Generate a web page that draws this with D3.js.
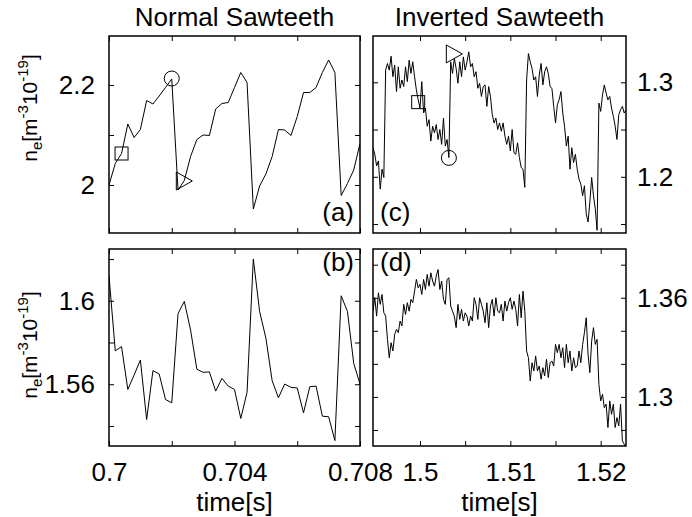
<!DOCTYPE html>
<html>
<head>
<meta charset="utf-8">
<script src="https://cdn.jsdelivr.net/npm/d3@7"></script>
<style>
  body { margin: 0; background: #fff; }
  svg text { font-family: "Liberation Sans", Arial, Helvetica, sans-serif; fill: #000; }
</style>
</head>
<body>
<script>
// ---- data ----
// normal sawteeth, sampled every 0.2 ms from 0.700 s
const normalT0 = 0.7, normalDt = 0.0002;
const normalTop = [
  2.0, 2.043, 2.063, 2.122, 2.095, 2.111, 2.169, 2.162, 2.178, 2.195,
  2.212, 1.99, 2.009, 2.057, 2.091, 2.1, 2.099, 2.152, 2.163, 2.165,
  2.195, 2.225, 2.205, 1.952, 1.998, 2.022, 2.057, 2.111, 2.11, 2.099,
  2.137, 2.185, 2.185, 2.195, 2.225, 2.25, 2.225, 1.979, 2.003, 2.03,
  2.083];
const normalBottom = [
  1.612, 1.576, 1.578, 1.5575, 1.5644, 1.5716, 1.5431, 1.5665, 1.5649, 1.5527,
  1.5511, 1.5938, 1.5997, 1.586, 1.5672, 1.5657, 1.5659, 1.5567, 1.5628, 1.5591,
  1.5575, 1.5436, 1.5561, 1.62, 1.5949, 1.5821, 1.5617, 1.5535, 1.5601, 1.5585,
  1.5582, 1.5463, 1.5588, 1.5591, 1.5447, 1.5444, 1.533, 1.6024, 1.5949, 1.57,
  1.5601];

// inverted sawteeth, sampled every 0.2 ms from 1.4948 s
const invT0 = 1.4948, invDt = 0.0002;
const invTop = [
  1.2308, 1.2238, 1.2115, 1.2168, 1.187, 1.208, 1.1993, 1.3129, 1.3199, 1.3129,
  1.3276, 1.3059, 1.3182, 1.2902, 1.3164, 1.2937, 1.3024, 1.2955, 1.3164, 1.3007,
  1.3234, 1.3094, 1.3217, 1.3059, 1.292, 1.2815, 1.2727, 1.3007, 1.2675, 1.2727,
  1.2535, 1.2605, 1.2378, 1.2535, 1.2465, 1.2552, 1.2395, 1.25, 1.2343, 1.2622,
  1.2325, 1.2395, 1.2203, 1.3217, 1.3094, 1.3252, 1.3147, 1.299, 1.3217, 1.3059,
  1.3269, 1.3129, 1.3217, 1.3322, 1.3164, 1.3199, 1.3059, 1.3112, 1.2937, 1.299,
  1.285, 1.2955, 1.2972, 1.2745, 1.2955, 1.285, 1.2657, 1.257, 1.2622, 1.25,
  1.257, 1.2482, 1.257, 1.243, 1.2343, 1.243, 1.2273, 1.25, 1.2255, 1.2238,
  1.236, 1.2203, 1.2098, 1.208, 1.1888, 1.3024, 1.3304, 1.3217, 1.3147, 1.3024,
  1.3059, 1.285, 1.3077, 1.3199, 1.2972, 1.3112, 1.3164, 1.3094, 1.2955, 1.2937,
  1.2745, 1.257, 1.2762, 1.2815, 1.2902, 1.2675, 1.2535, 1.2325, 1.243, 1.208,
  1.2308, 1.215, 1.2238, 1.208, 1.1975, 1.1923, 1.18, 1.1905, 1.1608, 1.1521,
  1.173, 1.1993, 1.18, 1.1661, 1.1433, 1.278, 1.2692, 1.2867, 1.2972, 1.2885,
  1.2815, 1.285, 1.2727, 1.264, 1.2535, 1.2395, 1.2657, 1.271, 1.2745, 1.2675,
  1.271];
const invBottom = [
  1.3519, 1.36, 1.3489, 1.363, 1.356, 1.362, 1.3509, 1.3489, 1.3348, 1.3237,
  1.3328, 1.3278, 1.3378, 1.3409, 1.3389, 1.3459, 1.3429, 1.356, 1.3499, 1.357,
  1.3519, 1.359, 1.357, 1.364, 1.3711, 1.366, 1.3681, 1.362, 1.3711, 1.365,
  1.3741, 1.367, 1.3751, 1.3701, 1.367, 1.3731, 1.3771, 1.365, 1.3701, 1.359,
  1.356, 1.3711, 1.3721, 1.355, 1.3519, 1.3489, 1.3419, 1.356, 1.3469, 1.353,
  1.3459, 1.3509, 1.3489, 1.3429, 1.3489, 1.3459, 1.36, 1.356, 1.3469, 1.36,
  1.356, 1.3519, 1.3449, 1.357, 1.3419, 1.355, 1.359, 1.3489, 1.36, 1.3519,
  1.3509, 1.356, 1.3459, 1.358, 1.3519, 1.357, 1.36, 1.353, 1.358, 1.353,
  1.3429, 1.362, 1.3479, 1.364, 1.3519, 1.3278, 1.3237, 1.3096, 1.3207, 1.3157,
  1.3248, 1.3157, 1.3187, 1.3107, 1.3177, 1.3127, 1.3227, 1.3117, 1.3207, 1.3217,
  1.3187, 1.3318, 1.3268, 1.3318, 1.3237, 1.3298, 1.3177, 1.3318, 1.3207, 1.3278,
  1.3157, 1.3237, 1.3177, 1.3187, 1.3278, 1.3207, 1.3318, 1.3389, 1.3479, 1.3258,
  1.3147, 1.3338, 1.3419, 1.3318, 1.3348, 1.3076, 1.2976, 1.3016, 1.2935, 1.2956,
  1.2815, 1.2976, 1.2895, 1.2956, 1.2815, 1.2875, 1.2825, 1.2956, 1.2734, 1.2714,
  1.2694];

// markers (square / circle / right triangle)
const markerShapes = ["square", "circle", "triangle"];
const markersNormalT = [0.7004, 0.702, 0.7024];
const markersNormalV = [2.063, 2.213, 2.008];
const markersInvT = [1.4998, 1.5032, 1.5038];
const markersInvV = [1.279, 1.220, 1.330];

// ticks and labels
const normalXTicks = [0.7, 0.702, 0.704, 0.706, 0.708];
const normalXLabels = [0.7, 0.704, 0.708];
const invXTicks = [1.5, 1.505, 1.51, 1.515, 1.52];
const invXLabels = [1.5, 1.51, 1.52];
const yTicksA = [2, 2.1, 2.2], yLabelsA = [2, 2.2];
const yTicksB = [1.54, 1.56, 1.58, 1.6, 1.62], yLabelsB = [1.56, 1.6];
const yTicksC = [1.15, 1.2, 1.25, 1.3], yLabelsC = [1.2, 1.3];
const yTicksD = [1.28, 1.3, 1.32, 1.34, 1.36, 1.38], yLabelsD = [1.3, 1.36];

// ---- layout ----
const W = 692, H = 517;
const colL = [109, 360], colR = [373, 626];
const rowT = [36, 233], rowB = [249, 446];
const FS = 26;

const svg = d3.select("body").append("svg")
  .attr("width", W).attr("height", H);

const only = labels => d => labels.includes(d) ? String(d) : "";
const none = () => "";

function styleAxis(g) {
  g.select(".domain").remove();
  g.attr("font-size", FS).attr("font-family", null);
  g.selectAll(".tick line").attr("stroke", "#000").attr("stroke-width", 1);
}

let clipId = 0;
function panel(o) {
  const [left, right] = o.cols, [top, bottom] = o.rows;
  const x = d3.scaleLinear().domain(o.xDomain).range([left, right]);
  const y = d3.scaleLinear().domain(o.yDomain).range([bottom, top]);
  const g = svg.append("g");

  const id = "clip" + (clipId++);
  svg.append("clipPath").attr("id", id)
    .append("rect").attr("x", left).attr("y", top)
    .attr("width", right - left).attr("height", bottom - top);

  const line = d3.line()
    .x((d, i) => x(o.t0 + i * o.dt))
    .y(d => y(d));
  g.append("path")
    .datum(o.values)
    .attr("clip-path", `url(#${id})`)
    .attr("fill", "none")
    .attr("stroke", "#000")
    .attr("stroke-width", 1)
    .attr("stroke-linejoin", "round")
    .attr("d", line);

  // axes with inward ticks on all four sides
  g.append("g").attr("transform", `translate(0,${bottom})`)
    .call(d3.axisBottom(x).tickValues(o.xTicks).tickSizeInner(-5).tickSizeOuter(0)
      .tickPadding(17).tickFormat(o.xLabels ? only(o.xLabels) : none))
    .call(styleAxis);
  g.append("g").attr("transform", `translate(0,${top})`)
    .call(d3.axisTop(x).tickValues(o.xTicks).tickSizeInner(-5).tickSizeOuter(0).tickFormat(none))
    .call(styleAxis);
  g.append("g").attr("transform", `translate(${left},0)`)
    .call(d3.axisLeft(y).tickValues(o.yTicks).tickSizeInner(-5).tickSizeOuter(0)
      .tickPadding(14).tickFormat(o.side === "left" ? only(o.yLabels) : none))
    .call(styleAxis);
  g.append("g").attr("transform", `translate(${right},0)`)
    .call(d3.axisRight(y).tickValues(o.yTicks).tickSizeInner(-5).tickSizeOuter(0)
      .tickPadding(11).tickFormat(o.side === "right" ? only(o.yLabels) : none))
    .call(styleAxis);

  g.append("rect")
    .attr("x", left).attr("y", top)
    .attr("width", right - left).attr("height", bottom - top)
    .attr("fill", "none").attr("stroke", "#000").attr("stroke-width", 1.5);

  if (o.markersT) {
    const m = g.selectAll(".marker")
      .data(o.markersT.map((t, i) => ({t, v: o.markersV[i], shape: markerShapes[i]})))
      .enter().append("g")
      .attr("transform", d => `translate(${x(d.t)},${y(d.v)})`);
    m.filter(d => d.shape === "square").append("rect")
      .attr("x", -6.5).attr("y", -6.5).attr("width", 13).attr("height", 13);
    m.filter(d => d.shape === "circle").append("circle").attr("r", 7.5);
    m.filter(d => d.shape === "triangle").append("path").attr("d", "M-8,-9L8,0L-8,9Z");
    m.selectAll("rect,circle,path")
      .attr("fill", "none").attr("stroke", "#000").attr("stroke-width", 1);
  }

  svg.append("text")
    .attr("x", o.tag.anchor === "end" ? right - 6 : left + 7)
    .attr("y", o.tag.y)
    .attr("text-anchor", o.tag.anchor)
    .attr("font-size", FS)
    .text(o.tag.text);
}

panel({cols: colL, rows: rowT, xDomain: [0.7, 0.708], yDomain: [1.904, 2.298],
  t0: normalT0, dt: normalDt, values: normalTop,
  xTicks: normalXTicks, yTicks: yTicksA, yLabels: yLabelsA, side: "left",
  markersT: markersNormalT, markersV: markersNormalV,
  tag: {text: "(a)", anchor: "end", y: 221}});
panel({cols: colL, rows: rowB, xDomain: [0.7, 0.708], yDomain: [1.5304, 1.6248],
  t0: normalT0, dt: normalDt, values: normalBottom,
  xTicks: normalXTicks, xLabels: normalXLabels, yTicks: yTicksB, yLabels: yLabelsB, side: "left",
  tag: {text: "(b)", anchor: "end", y: 271}});
panel({cols: colR, rows: rowT, xDomain: [1.4948, 1.5228], yDomain: [1.1405, 1.349],
  t0: invT0, dt: invDt, values: invTop,
  xTicks: invXTicks, yTicks: yTicksC, yLabels: yLabelsC, side: "right",
  markersT: markersInvT, markersV: markersInvV,
  tag: {text: "(c)", anchor: "start", y: 221}});
panel({cols: colR, rows: rowB, xDomain: [1.4948, 1.5228], yDomain: [1.2703, 1.3895],
  t0: invT0, dt: invDt, values: invBottom,
  xTicks: invXTicks, xLabels: invXLabels, yTicks: yTicksD, yLabels: yLabelsD, side: "right",
  tag: {text: "(d)", anchor: "start", y: 271}});

// titles
svg.append("text").attr("x", (colL[0] + colL[1]) / 2).attr("y", 26)
  .attr("text-anchor", "middle").attr("font-size", FS).text("Normal Sawteeth");
svg.append("text").attr("x", (colR[0] + colR[1]) / 2).attr("y", 26)
  .attr("text-anchor", "middle").attr("font-size", FS).text("Inverted Sawteeth");

// x axis titles
[colL, colR].forEach(c => {
  svg.append("text").attr("x", (c[0] + c[1]) / 2).attr("y", 511)
    .attr("text-anchor", "middle").attr("font-size", FS).text("time[s]");
});

// y axis titles: n_e [m^-3 10^-19]
function yTitle(cy) {
  const t = svg.append("text")
    .attr("transform", `translate(37,${cy}) rotate(-90)`)
    .attr("text-anchor", "middle")
    .attr("font-size", 21);
  t.append("tspan").text("n");
  t.append("tspan").attr("font-size", 15).attr("dy", 5).text("e");
  t.append("tspan").attr("dy", -5).text("[m");
  t.append("tspan").attr("font-size", 15).attr("dy", -9).text("-3");
  t.append("tspan").attr("dy", 9).text("10");
  t.append("tspan").attr("font-size", 15).attr("dy", -9).text("-19");
  t.append("tspan").attr("dy", 9).text("]");
}
yTitle(108);
yTitle(345);
</script>
</body>
</html>
